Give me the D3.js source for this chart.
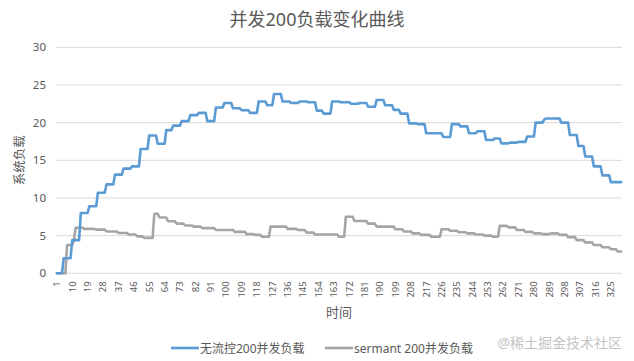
<!DOCTYPE html>
<html><head><meta charset="utf-8">
<script src="https://cdn.jsdelivr.net/npm/d3@7"></script>
<style>
html,body{margin:0;padding:0;background:#fff;}
svg{display:block;}
text{font-family:"Noto Sans","Noto Sans CJK SC",sans-serif;}
</style></head>
<body>
<svg id="chart" width="634" height="361"></svg>
<script>
const title = "并发200负载变化曲线";
const yTitle = "系统负载";
const xTitle = "时间";
const seriesNames = ["无流控200并发负载", "sermant 200并发负载"];
const yTicks = [0, 5, 10, 15, 20, 25, 30];
const xTickLabels = [1,10,19,28,37,46,55,64,73,82,91,100,109,118,127,136,145,154,163,172,181,190,199,208,217,226,235,244,253,262,271,280,289,298,307,316,325];
const categories = Array.from({length: 331}, (_, i) => i + 1);
const watermark = "@稀土掘金技术社区";

const seriesNoControl = [
 0,0,0,0,
 2,2,2,2,2,
 4.4,4.4,4.4,4.4,4.4,
 8,8,8,8,8,
 8.9,8.9,8.9,8.9,8.9,
 10.7,10.7,10.7,10.7,10.7,
 11.8,11.8,11.8,11.8,11.8,
 13.1,13.1,13.1,13.1,13.1,
 13.9,13.9,13.9,13.9,13.9,
 14.2,14.2,14.2,14.2,14.2,
 16.5,16.5,16.5,16.5,16.5,
 18.3,18.3,18.3,18.3,18.3,
 17.2,17.2,17.2,17.2,17.2,
 19,19,19,19,
 19.6,19.6,19.6,19.6,19.6,
 20.2,20.2,20.2,20.2,20.2,
 21,21,21,21,21,
 21.3,21.3,21.3,21.3,21.3,
 20.2,20.2,20.2,20.2,20.2,
 22,22,22,22,22,
 22.6,22.6,22.6,22.6,22.6,
 21.9,21.9,21.9,21.9,21.9,
 21.65,21.65,21.65,21.65,21.65,
 21.3,21.3,21.3,21.3,21.3,
 22.8,22.8,22.8,22.8,22.8,
 22.3,22.3,22.3,22.3,
 23.8,23.8,23.8,23.8,23.8,
 22.8,22.8,22.8,22.8,22.8,
 22.6,22.6,22.6,22.6,22.6,
 22.8,22.8,22.8,22.8,22.8,
 22.7,22.7,22.7,22.7,22.7,
 21.6,21.6,21.6,21.6,
 21.2,21.2,21.2,21.2,21.2,
 22.8,22.8,22.8,22.8,22.8,
 22.7,22.7,22.7,22.7,22.7,22.7,
 22.5,22.5,22.5,22.5,22.5,
 22.6,22.6,22.6,22.6,22.6,
 22.1,22.1,22.1,22.1,22.1,
 23,23,23,23,23,
 22.3,22.3,22.3,22.3,22.3,
 21.7,21.7,21.7,21.7,
 21.2,21.2,21.2,21.2,21.2,
 19.9,19.9,19.9,19.9,19.9,
 19.8,19.8,19.8,19.8,19.8,
 18.6,18.6,18.6,18.6,18.6,18.6,18.6,18.6,18.6,18.6,
 18.1,18.1,18.1,18.1,18.1,
 19.8,19.8,19.8,19.8,19.8,
 19.5,19.5,19.5,19.5,19.5,
 18.6,18.6,18.6,18.6,18.6,
 18.85,18.85,18.85,18.85,18.85,
 17.7,17.7,17.7,17.7,17.7,
 17.9,17.9,17.9,17.9,
 17.25,17.25,17.25,17.25,17.25,
 17.35,17.35,17.35,17.35,17.35,
 17.45,17.45,17.45,17.45,17.45,
 18.15,18.15,18.15,18.15,18.15,
 20,20,20,20,20,
 20.4,20.55,20.55,20.55,20.55,20.55,20.55,20.55,20.55,20.55,
 20,20,20,20,20,
 18.35,18.35,18.35,18.35,18.35,
 16.9,16.9,16.9,16.9,
 15.5,15.5,15.5,15.5,15.5,
 14.2,14.2,14.2,14.2,14.2,
 13,13,13,13,13,
 12.1,12.1,12.1,12.1,12.1,12.1,12.1
];

const seriesSermant = [
 0,0,0,0,0,0,
 3.75,3.75,3.75,3.75,
 4.4,
 6.05,6.05,6.05,6.05,6.05,
 5.9,5.9,5.9,5.9,5.9,5.9,5.9,
 5.8,5.8,5.8,5.8,5.8,5.8,
 5.55,5.55,5.55,5.55,5.55,5.55,5.55,
 5.35,5.35,5.35,5.35,5.35,5.35,
 5.15,5.15,5.15,5.15,5.15,
 4.9,4.9,4.9,4.9,
 4.7,4.7,4.7,4.7,4.7,4.7,
 7.9,7.9,7.9,
 7.4,7.4,7.4,7.4,7.4,
 6.9,6.9,6.9,6.9,6.9,
 6.6,6.6,6.6,6.6,6.6,
 6.35,6.35,6.35,6.35,6.35,
 6.2,6.2,6.2,6.2,6.2,
 6,6,6,6,6,6,6,6,
 5.75,5.75,5.75,5.75,5.75,5.75,5.75,5.75,5.75,5.75,5.75,
 5.5,5.5,5.5,5.5,5.5,5.5,5.5,
 5.2,5.2,5.2,5.2,5.2,
 5.1,5.1,5.1,5.1,
 4.85,4.85,4.85,4.85,4.85,
 6.2,6.2,6.2,6.2,6.2,6.2,6.2,6.2,6.2,6.2,
 5.9,5.9,5.9,5.9,5.9,5.9,
 5.75,5.75,5.75,5.75,5.75,
 5.4,5.4,5.4,5.4,5.4,
 5.15,5.15,5.15,5.15,5.15,5.15,5.15,5.15,5.15,5.15,5.15,5.15,5.15,5.15,
 4.85,4.85,4.85,4.85,
 7.5,7.5,7.5,7.5,7.5,
 6.95,6.95,6.95,6.95,6.95,6.95,6.95,6.95,
 6.6,6.6,6.6,6.6,6.6,
 6.2,6.2,6.2,6.2,6.2,6.2,6.2,6.2,6.2,6.2,6.2,
 5.85,5.85,5.85,5.85,5.85,
 5.55,5.55,5.55,5.55,5.55,
 5.3,5.3,5.3,5.3,5.3,
 5.1,5.1,5.1,5.1,5.1,5.1,
 4.85,4.85,4.85,4.85,4.85,4.85,
 5.85,5.85,5.85,5.85,5.85,
 5.65,5.65,5.65,5.65,5.65,
 5.45,5.45,5.45,5.45,5.45,
 5.3,5.3,5.3,5.3,5.3,
 5.15,5.15,5.15,5.15,5.15,
 5,5,5,5,5,
 4.85,4.85,4.85,4.85,
 6.3,6.3,6.3,6.3,6.3,
 6.1,6.1,6.1,6.1,6.1,
 5.75,5.75,5.75,5.75,5.75,
 5.5,5.5,5.5,5.5,5.5,
 5.3,5.3,5.3,5.3,5.3,
 5.2,5.2,5.2,5.2,5.2,
 5.3,5.3,5.3,5.3,5.3,
 5.1,5.1,5.1,5.1,5.1,
 4.8,4.8,4.8,4.8,4.8,
 4.4,4.4,4.4,4.4,4.4,
 4.1,4.1,4.1,4.1,4.1,
 3.75,3.75,3.75,3.75,3.75,
 3.45,3.45,3.45,3.45,3.45,
 3.2,3.2,3.2,3.2,
 2.9,2.9,2.9
];

const colors = ["#5b9bd5", "#a5a5a5"];
const textColor = "#595959";
const gridColor = "#d9d9d9";

const svg = d3.select("#chart");
const margin = {left: 56, right: 12, top: 47.3, bottom: 87.7};
const W = 634, H = 361;

const x = d3.scaleBand().domain(categories).range([margin.left, W - margin.right]).padding(0);
const y = d3.scaleLinear().domain([0, 30]).range([H - margin.bottom, margin.top]);

// gridlines
svg.append("g").selectAll("line").data(yTicks).join("line")
  .attr("x1", margin.left).attr("x2", W - margin.right)
  .attr("y1", d => y(d)).attr("y2", d => y(d))
  .attr("stroke", gridColor).attr("stroke-width", 1);

// y axis labels
const yAxis = d3.axisLeft(y).tickValues(yTicks).tickSize(0).tickPadding(0);
const gy = svg.append("g").attr("transform", `translate(${margin.left - 10},0)`).call(yAxis);
gy.select(".domain").remove();
gy.selectAll("text").attr("fill", textColor).style("font-size", "11.5px");

// x axis labels
const xAxis = d3.axisBottom(x).tickValues(xTickLabels).tickSize(0).tickPadding(0);
const gx = svg.append("g").attr("transform", `translate(0,${y(0)})`).call(xAxis);
gx.select(".domain").remove();
gx.selectAll("text")
  .attr("fill", textColor).style("font-size", "9.5px")
  .attr("text-anchor", "end")
  .attr("dy", null).attr("y", null)
  .attr("transform", "translate(0,8) rotate(-90)")
  .attr("x", 0).attr("dy", "0.35em");

// lines
const line = d3.line()
  .x((d, i) => x(categories[i]) + x.bandwidth() / 2)
  .y(d => y(d));

[seriesSermant, seriesNoControl].forEach((s, k) => {
  svg.append("path").datum(s)
    .attr("d", line)
    .attr("fill", "none")
    .attr("stroke", k === 0 ? colors[1] : colors[0])
    .attr("stroke-width", 2.6)
    .attr("stroke-linejoin", "round")
    .attr("stroke-linecap", "round");
});

// title
svg.append("text").attr("x", 317).attr("y", 26)
  .attr("text-anchor", "middle").attr("fill", textColor)
  .style("font-size", "18px").text(title);

// axis titles
svg.append("text").attr("transform", `translate(24,${(y(0)+y(30))/2}) rotate(-90)`)
  .attr("text-anchor", "middle").attr("fill", textColor)
  .style("font-size", "12.5px").text(yTitle);
svg.append("text").attr("x", 339).attr("y", 317)
  .attr("text-anchor", "middle").attr("fill", textColor)
  .style("font-size", "13px").text(xTitle);

// legend
const legendItems = [
  {name: seriesNames[0], color: colors[0], x: 171},
  {name: seriesNames[1], color: colors[1], x: 325}
];
const lg = svg.append("g");
legendItems.forEach(it => {
  lg.append("line").attr("x1", it.x).attr("x2", it.x + 28)
    .attr("y1", 348).attr("y2", 348)
    .attr("stroke", it.color).attr("stroke-width", 2.6);
  lg.append("text").attr("x", it.x + 29).attr("y", 352.5)
    .attr("fill", textColor).style("font-size", "12px").text(it.name);
});

// watermark
svg.append("text").attr("x", 622).attr("y", 348)
  .attr("text-anchor", "end").attr("fill", "#c4c4c4")
  .style("font-size", "14px").text(watermark);
</script>
</body></html>
